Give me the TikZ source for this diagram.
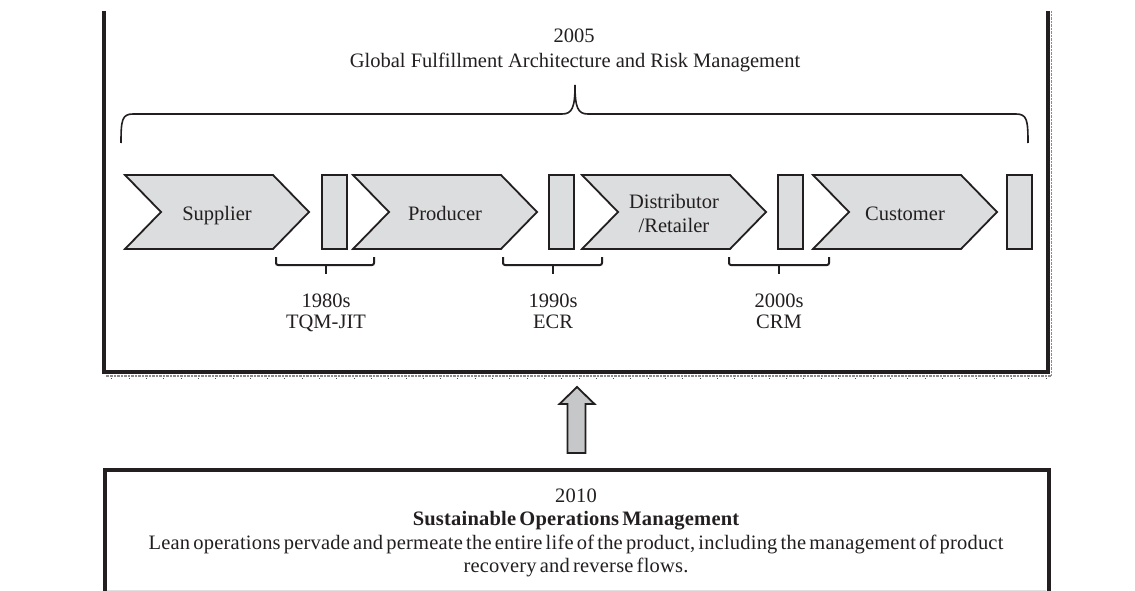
\documentclass[tikz,border=0pt]{standalone}
\usepackage{fontspec}
\setmainfont{Liberation Serif}
\newfontfamily\lowfont[WordSpace=0.6,LetterSpace=1.0]{Liberation Serif}
\definecolor{chev}{HTML}{DCDDDE}
\definecolor{arrfill}{HTML}{C6C7C8}
\definecolor{ink}{HTML}{231F20}
\tikzset{
  lbl/.style={inner sep=0pt, font=\fontsize{20.5}{24}\selectfont, text=ink},
  low/.style={inner sep=0pt, font=\lowfont\fontsize{20.5}{23.5}\selectfont, text=ink},
  bord/.style={draw=ink, line width=4pt},
  shadowline/.style={draw=black!45, line width=1.6pt, dash pattern=on 0.8pt off 0.6pt},
  brc/.style={draw=ink, line width=1.6pt},
  sbrc/.style={draw=ink, line width=2pt, rounded corners=2pt},
  chevstyle/.style={draw=ink, fill=chev, line width=1.8pt, line join=miter},
  arrstyle/.style={draw=ink, fill=arrfill, line width=1.8pt, line join=miter},
}
\newcommand\mychevron[1]{%
  \draw[chevstyle] (#1,175) -- (#1+148,175) -- (#1+184,212) -- (#1+148,249) -- (#1,249) -- (#1+36,212) -- cycle;}
\begin{document}
\begin{tikzpicture}[x=1pt,y=-1pt]
\useasboundingbox (0,0) rectangle (1135,591);
\fill[white] (0,0) rectangle (1135,591);
% outer frame (top cut off)
\draw[shadowline] (1051.5,11) -- (1051.5,376) -- (106,376);
\draw[bord] (104,11) -- (104,371.5) -- (1048,371.5) -- (1048,11);
\foreach \i in {0,...,54} \fill[black!70] ({111.4+17.3*\i},377.5) rectangle +(1,1.8);
% big brace
\draw[brc] (121,143) .. controls (121,120) and (122,114) .. (133,114) -- (562,114)
  .. controls (572,114) and (575,108) .. (575,85)
  .. controls (575,108) and (578,114) .. (588,114) -- (1016,114)
  .. controls (1027,114) and (1028,120) .. (1028,143);
\node[lbl, anchor=base] (y2005) at (574,43) {2005};
\node[lbl, anchor=base] (gfa) at (575,68) {Global Fulfillment Architecture and Risk Management};
% chevrons and blocks
\mychevron{125}
\mychevron{353}
\mychevron{582}
\mychevron{813}
\foreach \xx in {322,549,778,1007} \draw[chevstyle] (\xx,175) rectangle (\xx+25,249);
\node[lbl, anchor=base] (sup) at (217,220) {Supplier};
\node[lbl, anchor=base] (pro) at (445,220) {Producer};
\node[lbl, anchor=base] (dis) at (674,208) {Distributor};
\node[lbl, anchor=base] (ret) at (674,232) {/Retailer};
\node[lbl, anchor=base] (cus) at (905,220) {Customer};
% small braces and decade labels
\foreach \a/\c/\b/\n/\m/\nm in {276/326/374/1980s/TQM-JIT/a,503/553/602/1990s/ECR/b,729/779/829/2000s/CRM/c}{
  \draw[sbrc] (\a,257) -- (\a,265) -- (\b,265) -- (\b,257);
  \draw[sbrc] (\c,265) -- (\c,274);
  \node[lbl, anchor=base] (dec\nm) at (\c,307) {\n};
  \node[lbl, anchor=base] (abb\nm) at (\c,328.5) {\m};
}
% up arrow
\draw[arrstyle] (577,387) -- (594.5,404) -- (585.5,404) -- (585.5,453) -- (567.5,453) -- (567.5,404) -- (559.5,404) -- cycle;
% lower box
\draw[black!12, line width=1pt] (107,590) -- (1046,590);
\draw[bord] (104.5,591) -- (104.5,469.5) -- (1048.5,469.5) -- (1048.5,591);
\node[low, anchor=base] (y2010) at (576,502) {2010};
\node[low, anchor=base] (som) at (576,525.5) {\bfseries Sustainable Operations Management};
\node[low, anchor=base] (lean) at (576,549) {Lean operations pervade and permeate the entire life of the product, including the management of product};
\node[low, anchor=base] (rec) at (576,572.5) {recovery and reverse flows.};
\end{tikzpicture}
\end{document}
